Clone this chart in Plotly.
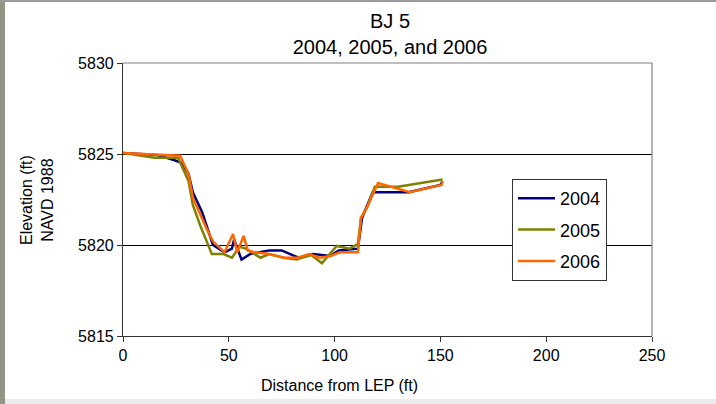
import plotly.graph_objects as go

# Cross-section survey of BJ 5: distance from LEP (ft) vs elevation (ft, NAVD 1988)
dist_2004 = [0, 16, 24, 28, 31, 33, 37.4, 41, 42.5, 48, 51.5, 52.5, 56, 60, 69, 75, 83, 90, 98, 102,
             111, 113, 118, 135, 150, 151]
elev_2004 = [5825.05, 5824.95, 5824.67, 5824.5, 5823.9, 5822.9, 5821.8, 5820.5, 5820.0, 5819.6, 5819.8,
             5820.3, 5819.2, 5819.5, 5819.7, 5819.7, 5819.3, 5819.5, 5819.4, 5819.7,
             5819.8, 5821.5, 5822.9, 5822.9, 5823.3, 5823.5]

dist_2005 = [0, 15, 26, 31, 33, 36.4, 42, 47.5, 51.5, 55, 58, 65, 69, 76, 82, 89, 94, 101, 107, 111,
             112.5, 115.5, 119, 130, 151]
elev_2005 = [5825.05, 5824.8, 5824.8, 5823.5, 5822.2, 5821.1, 5819.5, 5819.5, 5819.3, 5819.9, 5819.8,
             5819.3, 5819.5, 5819.3, 5819.2, 5819.45, 5819.0, 5819.95, 5819.8, 5820.05,
             5821.5, 5822.1, 5823.2, 5823.2, 5823.6]

dist_2006 = [0, 27, 31, 33, 39.5, 42.5, 48, 52, 54, 57, 59, 62, 69, 76, 82.5, 88, 93, 98, 102.5, 111,
             112.5, 115, 120.5, 135.5, 150.5, 151]
elev_2006 = [5825.05, 5824.9, 5823.9, 5822.6, 5820.9, 5820.2, 5819.6, 5820.6, 5819.6, 5820.5, 5819.7,
             5819.6, 5819.5, 5819.3, 5819.3, 5819.5, 5819.3, 5819.4, 5819.6, 5819.6,
             5821.5, 5822.0, 5823.4, 5822.9, 5823.3, 5823.5]

series_names = ["2004", "2005", "2006"]
series_colors = ["#000080", "#808000", "#FF6600"]
x_ticks = [0, 50, 100, 150, 200, 250]
y_ticks = [5815, 5820, 5825, 5830]

FONT = "Arial, Liberation Sans, sans-serif"

fig = go.Figure()
for name, xs, ys, col in zip(series_names,
                             [dist_2004, dist_2005, dist_2006],
                             [elev_2004, elev_2005, elev_2006],
                             series_colors):
    fig.add_trace(go.Scatter(x=xs, y=ys, mode="lines", name=name, legendgroup=name,
                             line=dict(color=col, width=2.5)))

# plot-area geometry in pixels (used to place frame pieces in paper units)
L, R, T, B, W, H = 123, 64, 63, 68, 716, 404
pw, ph = W - L - R, H - T - B


def px_x(p):
    return (p - L) / pw


def px_y(p):
    return (H - B - p) / ph


shapes = [
    # gray top and right borders of the plot area
    dict(type="line", xref="paper", yref="paper", x0=0, x1=1, y0=1, y1=1,
         line=dict(color="#808080", width=1.2), layer="above"),
    dict(type="line", xref="paper", yref="paper", x0=1, x1=1, y0=0, y1=1,
         line=dict(color="#808080", width=1.2), layer="above"),
    # window frame around the chart
    dict(type="rect", xref="paper", yref="paper", x0=px_x(0), x1=px_x(5), y0=px_y(404), y1=px_y(0),
         fillcolor="#8f9684", line=dict(width=0), layer="below"),
    dict(type="rect", xref="paper", yref="paper", x0=px_x(0), x1=px_x(716), y0=px_y(2), y1=px_y(0),
         fillcolor="#9a9a9a", line=dict(width=0), layer="below"),
    dict(type="rect", xref="paper", yref="paper", x0=px_x(5), x1=px_x(716), y0=px_y(404), y1=px_y(399),
         fillcolor="#ebebeb", line=dict(width=0), layer="below"),
]

fig.update_layout(
    width=W, height=H,
    margin=dict(l=L, r=R, t=T, b=B, pad=0),
    paper_bgcolor="white", plot_bgcolor="white",
    font=dict(family=FONT, size=16, color="black"),
    title=dict(text="BJ 5<br>2004, 2005, and 2006", xref="paper", x=px_x(390), xanchor="center",
               yref="container", y=1 - 28 / H, yanchor="middle", font=dict(size=20, family=FONT)),
    xaxis=dict(range=[0, 250], tickvals=x_ticks, ticks="outside", ticklen=5, tickcolor="#333",
               showline=True, linecolor="#333", linewidth=1.2, showgrid=False, zeroline=False,
               tickfont=dict(size=16)),
    yaxis=dict(range=[5815, 5830], tickvals=y_ticks, ticks="outside", ticklen=5, tickcolor="#333",
               showline=True, linecolor="#333", linewidth=1.2, showgrid=True, gridcolor="black",
               gridwidth=1, zeroline=False, tickfont=dict(size=16)),
    legend=dict(x=px_x(512), y=px_y(179), xanchor="left", yanchor="top",
                bgcolor="white", bordercolor="#333", borderwidth=1,
                font=dict(size=18, family=FONT), tracegroupgap=5, itemwidth=37),
    shapes=shapes,
    annotations=[
        dict(text="Elevation (ft)<br>NAVD 1988", xref="paper", yref="paper",
             x=px_x(37), y=px_y(200), xanchor="center", yanchor="middle",
             textangle=-90, showarrow=False, font=dict(size=16, family=FONT)),
        dict(text="Distance from LEP (ft)", xref="paper", yref="paper",
             x=px_x(339), y=px_y(385), xanchor="center", yanchor="middle",
             showarrow=False, font=dict(size=16, family=FONT)),
    ],
    showlegend=True,
)

fig.write_html("out.html")
